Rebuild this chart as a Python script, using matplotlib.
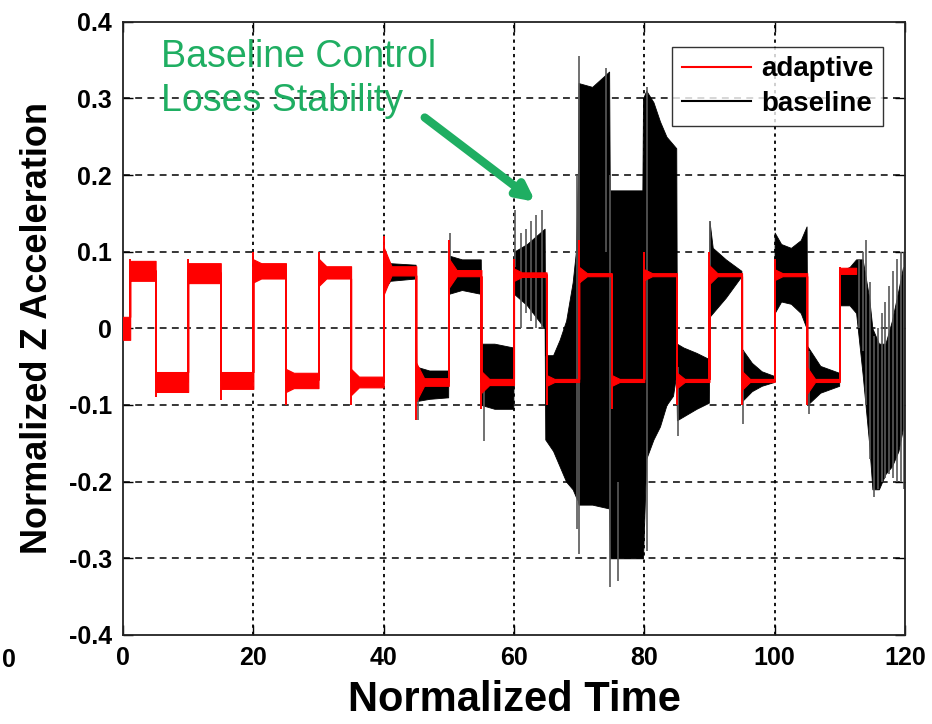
import numpy as np
import matplotlib
matplotlib.use("Agg")
import matplotlib.pyplot as plt

plt.rcParams['font.family'] = ['Liberation Sans', 'DejaVu Sans']

# adaptive controller: one entry per square-wave segment
red_edges = [0, 1.1, 5, 10, 15, 20, 25, 30, 35, 40, 45, 50, 55, 60, 65, 70,
             75, 80, 85, 90, 95, 100, 105, 110, 112.5]
red_level = [0.0, 0.075, -0.07, 0.072, -0.068, 0.075, -0.068, 0.073, -0.07,
             0.075, -0.07, 0.072, -0.07, 0.07, -0.068, 0.07, -0.068, 0.07,
             -0.068, 0.07, -0.068, 0.07, -0.068, 0.075]
red_noise = [0.015, 0.013, 0.013, 0.013, 0.011, 0.01, 0.01, 0.008, 0.007,
             0.006, 0.005, 0.004, 0.004, 0.003, 0.002, 0.002, 0.002, 0.002,
             0.002, 0.002, 0.002, 0.002, 0.002, 0.004]
red_ring = [0.0, 0.0, 0.0, 0.0, 0.0, 0.005, 0.005, 0.01, 0.01, 0.025, 0.02,
            0.015, 0.01, 0.005, 0.005, 0.008, 0.005, 0.005, 0.008, 0.01,
            0.01, 0.005, 0.015, 0.0]
red_peak = [0.0, 0.09, -0.09, 0.09, -0.093, 0.1, -0.1, 0.1, -0.1, 0.12, -0.12,
            0.115, -0.105, 0.09, -0.1, 0.115, -0.105, 0.1, -0.1, 0.1, -0.1,
            0.09, -0.1, 0.08]

# baseline controller: envelope of the oscillation (time, upper, lower)
bl_t = [40.0, 41.0, 44.9, 45.0, 47.0, 49.9, 50.0, 52.0, 54.9, 55.0, 57.0,
        59.9, 60.0, 62.0, 64.7, 64.8, 66.0, 67.0, 68.0, 69.0, 69.5, 69.8,
        69.9, 72.0, 74.6, 74.7, 77.0, 79.7, 79.8, 80.3, 81.4, 82.4, 83.4,
        84.4, 84.9, 85.0, 86.0, 88.0, 89.9, 90.0, 90.5, 92.5, 94.9, 95.0,
        96.5, 98.0, 99.9, 100.0, 101.0, 102.5, 104.0, 104.9, 105.0, 107.0,
        109.9, 110.0, 111.5, 112.5, 113.5, 114.5, 115.0, 116.0, 117.0,
        118.0, 119.0, 119.7]
bl_hi = [0.095, 0.085, 0.083, -0.05, -0.055, -0.055, 0.095, 0.09, 0.09,
         -0.02, -0.02, -0.025, 0.10, 0.11, 0.13, -0.035, -0.035, -0.015,
         0.01, 0.06, 0.10, 0.20, 0.32, 0.315, 0.335, 0.18, 0.18, 0.18, 0.30,
         0.31, 0.295, 0.27, 0.25, 0.24, 0.235, -0.02, -0.025, -0.032, -0.04,
         0.14, 0.105, 0.09, 0.075, -0.027, -0.045, -0.056, -0.062, 0.125,
         0.11, 0.105, 0.115, 0.133, -0.023, -0.049, -0.058, 0.075, 0.08,
         0.09, 0.09, 0.04, 0.0, -0.02, -0.02, 0.01, 0.05, 0.08]
bl_lo = [0.05, 0.062, 0.065, -0.095, -0.092, -0.09, 0.045, 0.05, 0.045,
         -0.10, -0.105, -0.105, 0.045, 0.03, 0.0, -0.145, -0.16, -0.18,
         -0.2, -0.21, -0.22, -0.225, -0.23, -0.23, -0.235, -0.30, -0.30,
         -0.30, -0.30, -0.17, -0.145, -0.128, -0.10, -0.088, -0.06, -0.12,
         -0.115, -0.105, -0.097, 0.015, 0.02, 0.04, 0.068, -0.095, -0.082,
         -0.075, -0.07, 0.02, 0.035, 0.032, 0.02, 0.0, -0.10, -0.084,
         -0.075, 0.03, 0.03, 0.02, -0.06, -0.15, -0.21, -0.21, -0.19, -0.18,
         -0.16, -0.13]

# single spikes of the baseline signal sticking out of the envelope
bs_t = [45.3, 50.2, 55.4, 60.2, 61.0, 61.8, 62.6, 63.4, 64.3, 69.6, 69.9,
        74.1, 74.8, 76.0, 80.4, 85.1, 90.1, 95.1, 105.2, 113.0, 113.5, 114.0,
        114.6, 115.2, 115.8, 116.4, 117.0, 117.6, 118.2, 118.8, 119.4, 119.8]
bs_lo = [-0.12, 0.06, -0.147, 0.08, 0.0, 0.02, 0.01, 0.0, 0.0, -0.262,
         -0.295, 0.1, -0.337, -0.33, -0.29, -0.14, 0.02, -0.125, -0.112, 0.0,
         -0.03, -0.10, -0.17, -0.22, -0.21, -0.20, -0.195, -0.19, -0.195,
         -0.20, -0.20, -0.21]
bs_hi = [-0.07, 0.125, -0.08, 0.155, 0.125, 0.13, 0.14, 0.148, 0.155, 0.2,
         0.355, 0.34, 0.2, -0.2, 0.315, -0.05, 0.14, -0.03, -0.03, 0.09, 0.10,
         0.115, 0.06, -0.01, 0.0, 0.02, 0.035, 0.055, 0.075, 0.09, 0.10, 0.10]

xticks = [0, 20, 40, 60, 80, 100, 120]
yticks = [-0.4, -0.3, -0.2, -0.1, 0, 0.1, 0.2, 0.3, 0.4]
ytick_labels = ['-0.4', '-0.3', '-0.2', '-0.1', '0', '0.1', '0.2', '0.3', '0.4']

green = '#1fae62'

fig = plt.figure(figsize=(9.32, 7.24), dpi=100)
ax = fig.add_axes([0.132, 0.123, 0.839, 0.847])

# baseline
ax.fill_between(bl_t, bl_lo, bl_hi, color='black', lw=0.6, zorder=2)
ax.vlines(bs_t, bs_lo, bs_hi, color='0.35', lw=1.2, zorder=2)

# adaptive: build the noisy band segment by segment
rt, rhi, rlo, rline_t, rline_y = [], [], [], [], []
for i in range(len(red_level)):
    t0, t1 = red_edges[i], red_edges[i + 1]
    lev, n, r = red_level[i], red_noise[i], red_ring[i]
    ts = [t0, min(t0 + 1.2, t1), t1]
    rt += ts
    rhi += [lev + n + r, lev + n, lev + n]
    rlo += [lev - n - r, lev - n, lev - n]
    rline_t += [t0, t1]
    rline_y += [lev, lev]
ax.fill_between(rt, rlo, rhi, color='red', lw=0.8, zorder=3)
ax.plot(rline_t, rline_y, color='red', lw=1.4, zorder=3)
ax.vlines(red_edges[1:-1], red_level[:-1], red_peak[1:], color='red',
          lw=1.4, zorder=3)

ax.plot([], [], color='red', lw=1.5, label='adaptive')
ax.plot([], [], color='black', lw=1.5, label='baseline')

ax.set_xlim(0, 120)
ax.set_ylim(-0.4, 0.4)
ax.set_xticks(xticks)
ax.set_xticklabels([str(v) for v in xticks], fontsize=18, fontweight='bold')
ax.set_yticks(yticks)
ax.set_yticklabels(ytick_labels, fontsize=18, fontweight='bold')
ax.tick_params(direction='in', length=7, width=1, top=True, right=True,
               pad=8)
for s in ax.spines.values():
    s.set_linewidth(1.3)
    s.set_color('#222222')

for y in yticks[1:-1]:
    ax.axhline(y, color='black', lw=1.1, dashes=(4.5, 3.5), zorder=1)
for x in xticks[1:-1]:
    ax.axvline(x, color='black', lw=1.3, dashes=(1.8, 2.2), zorder=1)

ax.set_xlabel('Normalized Time', fontsize=30, fontweight='bold', labelpad=7)
ax.set_ylabel('Normalized Z Acceleration', fontsize=26, fontweight='bold',
              labelpad=10)

leg = ax.legend(loc='upper right', bbox_to_anchor=(0.99, 0.982),
                prop={'weight': 'bold', 'size': 20},
                frameon=True, fancybox=False, handlelength=2.5,
                handletextpad=0.35, borderpad=0.35, labelspacing=0.3)
leg.get_frame().set_edgecolor('black')
leg.get_frame().set_linewidth(1.0)

ax.text(5.9, 0.378, 'Baseline Control\nLoses Stability', color=green,
        fontsize=27, va='top', ha='left', linespacing=1.3, zorder=5)
ax.annotate('', xy=(63.3, 0.165), xytext=(46.3, 0.275),
            arrowprops=dict(arrowstyle='-|>,head_length=1.0,head_width=0.5',
                            color=green, lw=6, shrinkA=0, shrinkB=0),
            zorder=5)

fig.text(0.01, 0.088, '0', fontsize=18, fontweight='bold', ha='center',
         va='center')

fig.savefig('out.png', dpi=100, facecolor='white')
